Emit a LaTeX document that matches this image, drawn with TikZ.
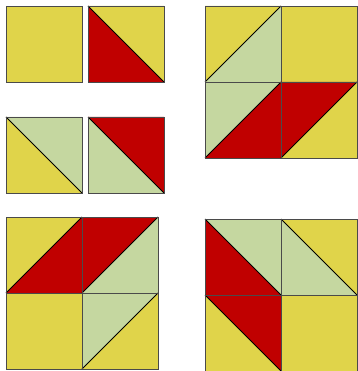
\documentclass[tikz,border=0pt]{standalone}
\usepackage{tikz}
\definecolor{cyel}{HTML}{E0D44A}
\definecolor{cred}{HTML}{C00000}
\definecolor{cgrn}{HTML}{C5D7A0}
\definecolor{cedge}{HTML}{4A4A4A}
\tikzset{
  edge/.style={draw=cedge, line width=0.9pt},
  diag/.style={draw=black, line width=0.9pt},
}
% ---- quilt cells (x,y = top-left corner, side 76) ----
\newcommand{\cellpl}[3]{%
  \fill[#3] (#1,#2) rectangle ++(76,76);
  \draw[edge] (#1,#2) rectangle ++(76,76);}
% diagonal top-left -> bottom-right: #3 lower-left, #4 upper-right
\newcommand{\cellbs}[4]{%
  \fill[#3] (#1,#2) -- (#1,#2+76) -- (#1+76,#2+76) -- cycle;
  \fill[#4] (#1,#2) -- (#1+76,#2) -- (#1+76,#2+76) -- cycle;
  \draw[diag] (#1,#2) -- (#1+76,#2+76);
  \draw[edge] (#1,#2) rectangle ++(76,76);}
% diagonal bottom-left -> top-right: #3 upper-left, #4 lower-right
\newcommand{\cellfs}[4]{%
  \fill[#3] (#1,#2) -- (#1+76,#2) -- (#1,#2+76) -- cycle;
  \fill[#4] (#1+76,#2) -- (#1+76,#2+76) -- (#1,#2+76) -- cycle;
  \draw[diag] (#1,#2+76) -- (#1+76,#2);
  \draw[edge] (#1,#2) rectangle ++(76,76);}
\begin{document}
\begin{tikzpicture}[x=1pt, y=-1pt]
\useasboundingbox (0,0) rectangle (357,371);
% single patches
\cellpl{6}{6}{cyel}
\cellbs{88}{6}{cred}{cyel}
\cellbs{6}{117}{cyel}{cgrn}
\cellbs{88}{117}{cgrn}{cred}
% block top right
\cellfs{205}{6}{cyel}{cgrn}
\cellpl{281}{6}{cyel}
\cellfs{205}{82}{cgrn}{cred}
\cellfs{281}{82}{cred}{cyel}
% block bottom left
\cellfs{6}{217}{cyel}{cred}
\cellfs{82}{217}{cred}{cgrn}
\cellpl{6}{293}{cyel}
\cellfs{82}{293}{cgrn}{cyel}
% block bottom right
\cellbs{205}{219}{cred}{cgrn}
\cellbs{281}{219}{cgrn}{cyel}
\cellbs{205}{295}{cyel}{cred}
\cellpl{281}{295}{cyel}
\end{tikzpicture}
\end{document}
